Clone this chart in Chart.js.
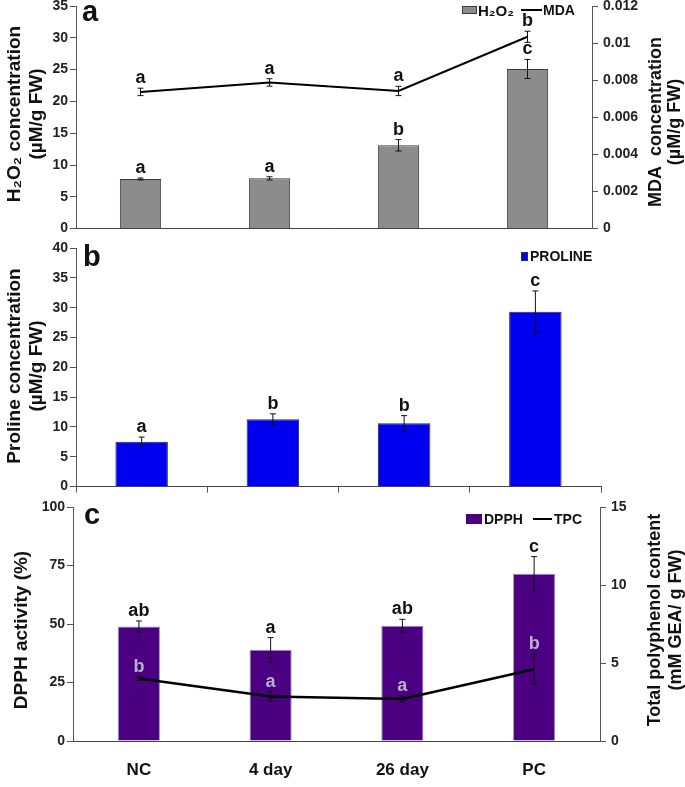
<!DOCTYPE html>
<html>
<head>
<meta charset="utf-8">
<script src="https://cdn.jsdelivr.net/npm/chart.js"></script>
<style>
  body { margin: 0; background: #fff; }
  #wrap { position: relative; width: 685px; height: 787px; overflow: hidden; }
  canvas { position: absolute; left: 0; }
</style>
</head>
<body>
<div id="wrap">
  <canvas id="chartC" width="685" height="302" style="top:485px"></canvas>
  <canvas id="chartB" width="685" height="267" style="top:230px"></canvas>
  <canvas id="chartA" width="685" height="256" style="top:-14px"></canvas>
</div>
<script>
// groups (same for all three panels)
let groups = ["NC", "4 day", "26 day", "PC"];

// a: H2O2 bars + MDA line
let h2o2 = [7.8, 7.9, 13.1, 25.1];
let h2o2Err = [0.15, 0.25, 0.9, 1.5];
let h2o2Sig = ["a", "a", "b", "c"];
let mda = [0.00737, 0.00788, 0.00742, 0.01034];
let mdaErr = [0.0002, 0.0002, 0.00025, 0.0003];
let mdaSig = ["a", "a", "a", "b"];

// b: proline
let proline = [7.5, 11.3, 10.6, 29.3];
let prolineErr = [0.8, 0.9, 1.3, 3.5];
let prolineSig = ["a", "b", "b", "c"];

// c: DPPH bars + TPC line
let dpph = [48.9, 39.0, 49.3, 71.5];
let dpphErr = [2.4, 5.2, 2.7, 7.3];
let dpphSig = ["ab", "a", "ab", "c"];
let tpc = [4.0, 2.85, 2.7, 4.6];
let tpcErr = [0.12, 0.3, 0.18, 0.95];
let tpcSig = ["b", "a", "a", "b"];

const FONT = '"Liberation Sans", Arial, sans-serif';
const tickFont = {family: FONT, size: 14, weight: "bold"};

// error bars + significance letters
const marks = {
    id: "marks",
    afterDatasetsDraw(chart) {
        const ctx = chart.ctx;
        chart.data.datasets.forEach((ds, i) => {
            if (!ds.err) return;
            const meta = chart.getDatasetMeta(i);
            const sc = chart.scales[ds.yAxisID || "y"];
            meta.data.forEach((el, j) => {
                const x = el.x;
                const top = sc.getPixelForValue(ds.data[j] + ds.err[j]);
                const bot = sc.getPixelForValue(ds.data[j] - ds.err[j]);
                ctx.save();
                ctx.strokeStyle = "#111";
                ctx.lineWidth = 1;
                ctx.beginPath();
                ctx.moveTo(x, top); ctx.lineTo(x, bot);
                ctx.moveTo(x - 3, top); ctx.lineTo(x + 3, top);
                ctx.moveTo(x - 3, bot); ctx.lineTo(x + 3, bot);
                ctx.stroke();
                ctx.fillStyle = ds.sigColor || "#111";
                ctx.font = "bold 18px " + FONT;
                ctx.textAlign = "center";
                ctx.textBaseline = "alphabetic";
                ctx.fillText(ds.sig[j], x, top - 5);
                ctx.restore();
            });
        });
    }
};

// rotated (bottom to top) axis titles
function vTitle(ctx, lines, xs, cy, size) {
    ctx.save();
    ctx.fillStyle = "#111";
    ctx.font = "bold " + (size || 19) + "px " + FONT;
    ctx.textAlign = "center";
    ctx.textBaseline = "middle";
    lines.forEach((t, i) => {
        ctx.save();
        ctx.translate(xs[i], cy);
        ctx.rotate(-Math.PI / 2);
        ctx.fillText(t, 0, 0);
        ctx.restore();
    });
    ctx.restore();
}

function txt(ctx, t, x, y, size) {
    ctx.fillStyle = "#111";
    ctx.font = "bold " + size + "px " + FONT;
    ctx.textAlign = "left";
    ctx.textBaseline = "alphabetic";
    ctx.fillText(t, x, y);
}

// canvas y offset (dy) so the drawings below use page coordinates
function deco(dy, fn) {
    return {id: "deco", afterDraw: chart => {
        const ctx = chart.ctx;
        ctx.save(); ctx.translate(0, -dy); fn(ctx); ctx.restore();
    }};
}

function yAxis(min, max, step, width, pos, fmt) {
    return {
        position: pos,
        min: min, max: max,
        afterFit: s => { s.width = width; },
        ticks: {stepSize: step, color: "#222", font: tickFont, padding: pos == "right" ? 5 : 2,
                callback: fmt || (v => v)},
        grid: {drawOnChartArea: false, tickLength: 6, color: "#555"},
        border: {color: "#555", width: 1}
    };
}

// ---- a ----  (canvas top -14: plot 6..228)
new Chart("chartA", {
    type: "bar",
    data: {
        labels: groups,
        datasets: [{
            type: "line", data: mda, err: mdaErr, sig: mdaSig, yAxisID: "y1",
            borderColor: "#000", borderWidth: 2, pointRadius: 0, tension: 0
        }, {
            data: h2o2, err: h2o2Err, sig: h2o2Sig,
            backgroundColor: "#8c8c8c", borderColor: "#3c3c3c", borderWidth: 1,
            barPercentage: 0.32, categoryPercentage: 1
        }]
    },
    options: {
        responsive: false, animation: false,
        layout: {padding: {top: 20}},
        plugins: {legend: {display: false}, tooltip: {enabled: false}},
        scales: {
            x: {afterFit: s => { s.height = 10; }, ticks: {display: false},
                grid: {display: false}, border: {color: "#444"}},
            y: yAxis(0, 35, 5, 76, "left"),
            y1: yAxis(0, 0.012, 0.002, 93, "right", v => +v.toFixed(3))
        }
    },
    plugins: [marks, deco(-14, ctx => {
        txt(ctx, "a", 82, 21, 29);
        vTitle(ctx, ["H₂O₂ concentration", "(µM/g FW)"], [15, 37], 114);
        vTitle(ctx, ["MDA  concentration", "(µM/g FW)"], [656, 675], 122, 18);
        ctx.fillStyle = "#8c8c8c"; ctx.fillRect(462, 6, 15, 8);
        ctx.strokeStyle = "#3c3c3c"; ctx.lineWidth = 1; ctx.strokeRect(462.5, 6.5, 14, 7);
        txt(ctx, "H₂O₂", 478, 16, 15);
        ctx.strokeStyle = "#000"; ctx.lineWidth = 2;
        ctx.beginPath(); ctx.moveTo(521, 10); ctx.lineTo(542, 10); ctx.stroke();
        txt(ctx, "MDA", 543, 15, 14);
    })]
});

// ---- b ----  (canvas top 230: plot 247..486)
new Chart("chartB", {
    type: "bar",
    data: {
        labels: groups,
        datasets: [{
            data: proline, err: prolineErr, sig: prolineSig,
            backgroundColor: "#0000f0", borderColor: "#2a2a50", borderWidth: 1,
            barPercentage: 0.4, categoryPercentage: 1
        }]
    },
    options: {
        responsive: false, animation: false,
        layout: {padding: {top: 18, right: 84}},
        plugins: {legend: {display: false}, tooltip: {enabled: false}},
        scales: {
            x: {afterFit: s => { s.height = 7; }, ticks: {display: false},
                grid: {drawOnChartArea: false, tickLength: 6, color: "#555"}, border: {color: "#444"}},
            y: yAxis(0, 40, 5, 76, "left")
        }
    },
    plugins: [marks, deco(230, ctx => {
        txt(ctx, "b", 83, 266, 29);
        vTitle(ctx, ["Proline concentration", "(µM/g FW)"], [15, 37], 366);
        ctx.fillStyle = "#0000f0"; ctx.fillRect(521, 252, 7, 9);
        ctx.strokeStyle = "#2a2a50"; ctx.lineWidth = 1; ctx.strokeRect(521.5, 252.5, 6, 8);
        txt(ctx, "PROLINE", 530, 261, 14);
    })]
});

// ---- c ----  (canvas top 485: plot 507..741)
new Chart("chartC", {
    type: "bar",
    data: {
        labels: groups,
        datasets: [{
            type: "line", data: tpc, err: tpcErr, sig: tpcSig, sigColor: "#b4b4c4",
            yAxisID: "y1", borderColor: "#000", borderWidth: 2.5, pointRadius: 0, tension: 0
        }, {
            data: dpph, err: dpphErr, sig: dpphSig,
            backgroundColor: "#4b0082", borderColor: "#9a8cc4", borderWidth: 1,
            barPercentage: 0.32, categoryPercentage: 1
        }]
    },
    options: {
        responsive: false, animation: false,
        layout: {padding: {top: 22}},
        plugins: {legend: {display: false}, tooltip: {enabled: false}},
        scales: {
            x: {afterFit: s => { s.height = 46; },
                ticks: {color: "#111", font: {family: FONT, size: 17, weight: "bold"}, padding: 11},
                grid: {display: false}, border: {color: "#444"}},
            y: yAxis(0, 100, 25, 73, "left"),
            y1: yAxis(0, 15, 5, 85, "right")
        }
    },
    plugins: [marks, deco(485, ctx => {
        txt(ctx, "c", 84, 524, 29);
        vTitle(ctx, ["DPPH activity (%)"], [22], 630);
        vTitle(ctx, ["Total polyphenol content", "(mM GEA/ g FW)"], [655, 676], 620, 18);
        ctx.fillStyle = "#4b0082"; ctx.fillRect(466, 514, 16, 10);
        txt(ctx, "DPPH", 484, 524, 14);
        ctx.strokeStyle = "#000"; ctx.lineWidth = 2;
        ctx.beginPath(); ctx.moveTo(533, 519); ctx.lineTo(552, 519); ctx.stroke();
        txt(ctx, "TPC", 554, 524, 14);
    })]
});
</script>
</body>
</html>
